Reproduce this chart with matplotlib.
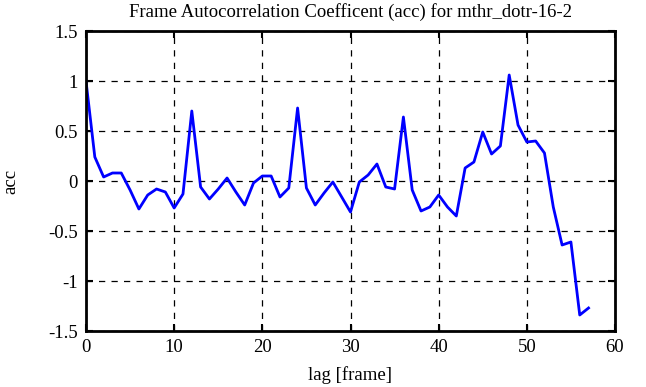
import matplotlib
matplotlib.use("Agg")
import matplotlib.pyplot as plt
import numpy as np

lags = list(range(58))
acc = [1.0, 0.24, 0.04, 0.08, 0.08, -0.09, -0.28, -0.14, -0.08, -0.11,
       -0.27, -0.13, 0.70, -0.06, -0.18, -0.08, 0.03, -0.11, -0.24, -0.02,
       0.05, 0.05, -0.16, -0.07, 0.73, -0.07, -0.24, -0.12, -0.01, -0.16,
       -0.31, -0.01, 0.06, 0.17, -0.06, -0.08, 0.64, -0.09, -0.30, -0.26,
       -0.14, -0.26, -0.35, 0.13, 0.19, 0.49, 0.27, 0.35, 1.06, 0.56,
       0.39, 0.40, 0.28, -0.26, -0.64, -0.61, -1.34, -1.27]
xticks = [0, 10, 20, 30, 40, 50, 60]
yticks = [-1.5, -1, -0.5, 0, 0.5, 1, 1.5]
ytick_labels = ["-1.5", "-1", "-0.5", "0", "0.5", "1", "1.5"]

plt.rcParams['font.family'] = ['Liberation Serif', 'DejaVu Serif']
fig = plt.figure(figsize=(6.46, 3.87), dpi=100)
ax = fig.add_axes([86/646, 56/387, (615-86)/646, (331-31)/387])
ax.plot(lags, acc, color='#0000ff', linewidth=2)
ax.set_xlim(0, 60)
ax.set_ylim(-1.5, 1.5)
ax.set_xticks(xticks)
ax.set_yticks(yticks)
ax.set_yticklabels(ytick_labels)
ax.grid(True, color='black', linestyle=(0, (5, 5)), linewidth=0.9)
ax.tick_params(direction='in', top=True, right=True, labelsize=13.5, length=5, width=1.5, pad=6)
for s in ax.spines.values():
    s.set_linewidth(2)
ax.set_xlabel('lag [frame]', fontsize=13.5, labelpad=7)
ax.set_ylabel('acc', fontsize=13.5)
ax.yaxis.set_label_coords(-0.125, 0.5)
ax.set_title('Frame Autocorrelation Coefficent (acc) for mthr_dotr-16-2', fontsize=13.5, pad=10)
fig.savefig('out.png', dpi=100)
